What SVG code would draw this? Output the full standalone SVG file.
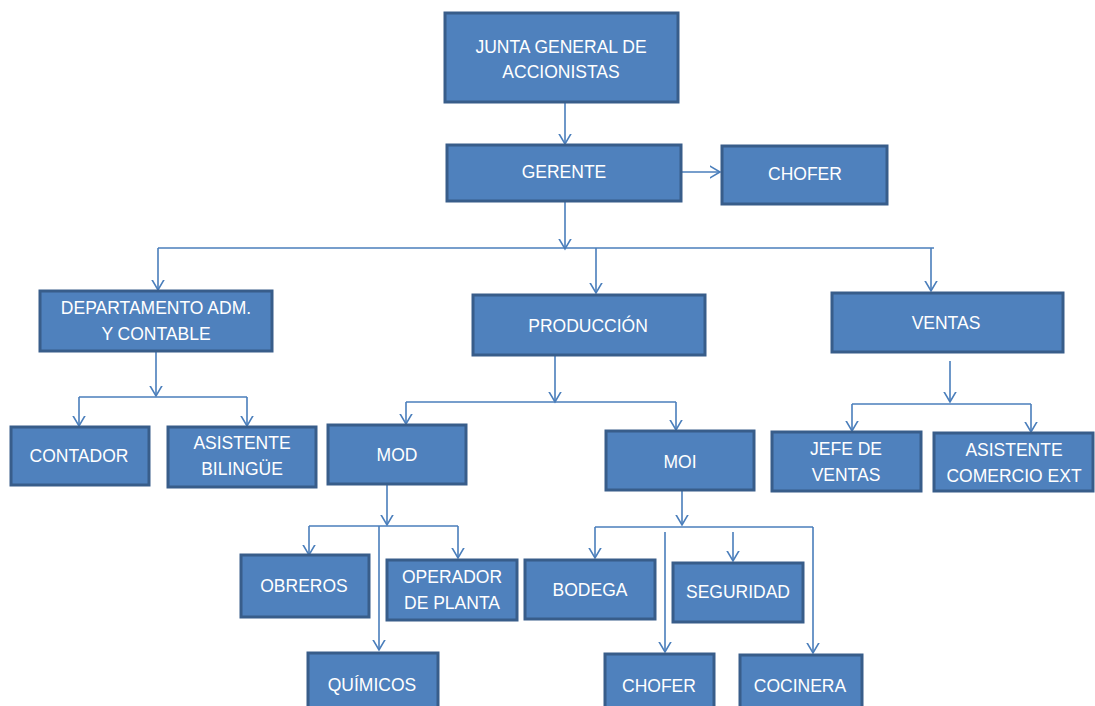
<svg xmlns="http://www.w3.org/2000/svg" width="1095" height="706" viewBox="0 0 1095 706">
<style>
.box{fill:#4F81BD;stroke:#385D8A;stroke-width:3}
.t{fill:#FFFFFF;font-family:"Liberation Sans",Arial,sans-serif;font-size:17.5px;text-anchor:middle}
.c{fill:none;stroke:#4A7EBB;stroke-width:1.6}
</style>
<defs>
<marker id="ah" markerUnits="userSpaceOnUse" markerWidth="20" markerHeight="20" viewBox="-10 -10 20 20" refX="0" refY="0" orient="auto">
<path d="M-12,-7 L0,0 L-12,7" fill="none" stroke="#4A7EBB" stroke-width="1.6"/>
</marker>
</defs>
<rect width="1095" height="706" fill="#FFFFFF"/>
<g id="connectors">
<path class="c" d="M565,102 V144" marker-end="url(#ah)"/>
<path class="c" d="M681,172 H720" marker-end="url(#ah)"/>
<path class="c" d="M565,201 V249" marker-end="url(#ah)"/>
<path class="c" d="M158,248 H934"/>
<path class="c" d="M158,248 V290" marker-end="url(#ah)"/>
<path class="c" d="M596,248 V293" marker-end="url(#ah)"/>
<path class="c" d="M931,248 V291" marker-end="url(#ah)"/>
<path class="c" d="M156,351 V396" marker-end="url(#ah)"/>
<path class="c" d="M79,397 H247"/>
<path class="c" d="M79,397 V426" marker-end="url(#ah)"/>
<path class="c" d="M247,397 V426" marker-end="url(#ah)"/>
<path class="c" d="M555,355 V402" marker-end="url(#ah)"/>
<path class="c" d="M406,402 H676"/>
<path class="c" d="M406,402 V424" marker-end="url(#ah)"/>
<path class="c" d="M676,402 V430" marker-end="url(#ah)"/>
<path class="c" d="M950,361 V402" marker-end="url(#ah)"/>
<path class="c" d="M852,404 H1031"/>
<path class="c" d="M852,404 V431" marker-end="url(#ah)"/>
<path class="c" d="M1031,404 V432" marker-end="url(#ah)"/>
<path class="c" d="M387,484 V525" marker-end="url(#ah)"/>
<path class="c" d="M309,526 H458"/>
<path class="c" d="M309,526 V555" marker-end="url(#ah)"/>
<path class="c" d="M458,526 V558" marker-end="url(#ah)"/>
<path class="c" d="M379,526 V650" marker-end="url(#ah)"/>
<path class="c" d="M682,490 V525" marker-end="url(#ah)"/>
<path class="c" d="M595,527 H813"/>
<path class="c" d="M595,527 V558" marker-end="url(#ah)"/>
<path class="c" d="M665,532 V652" marker-end="url(#ah)"/>
<path class="c" d="M733,532 V561" marker-end="url(#ah)"/>
<path class="c" d="M813,527 V653" marker-end="url(#ah)"/>
</g>
<g id="junta"><rect class="box" x="445" y="13" width="233" height="89"/><text class="t" x="561" y="53">JUNTA GENERAL DE</text><text class="t" x="561" y="78">ACCIONISTAS</text></g>
<g id="gerente"><rect class="box" x="447" y="145" width="234" height="56"/><text class="t" x="564" y="178">GERENTE</text></g>
<g id="chofer1"><rect class="box" x="722" y="146" width="165" height="58"/><text class="t" x="805" y="180">CHOFER</text></g>
<g id="departamento"><rect class="box" x="40" y="291" width="232" height="60"/><text class="t" x="156" y="314">DEPARTAMENTO ADM.</text><text class="t" x="156" y="340">Y CONTABLE</text></g>
<g id="produccion"><rect class="box" x="473" y="295" width="232" height="60"/><text class="t" x="588" y="332">PRODUCCIÓN</text></g>
<g id="ventas"><rect class="box" x="832" y="293" width="231" height="59"/><text class="t" x="946" y="329">VENTAS</text></g>
<g id="contador"><rect class="box" x="11" y="427" width="138" height="58"/><text class="t" x="79" y="462">CONTADOR</text></g>
<g id="asistente-bilingue"><rect class="box" x="168" y="427" width="148" height="60"/><text class="t" x="242" y="449">ASISTENTE</text><text class="t" x="242" y="475">BILINGÜE</text></g>
<g id="mod"><rect class="box" x="328" y="425" width="138" height="59"/><text class="t" x="397" y="461">MOD</text></g>
<g id="moi"><rect class="box" x="606" y="431" width="148" height="59"/><text class="t" x="680" y="468">MOI</text></g>
<g id="jefe-ventas"><rect class="box" x="772" y="432" width="149" height="59"/><text class="t" x="846" y="455">JEFE DE</text><text class="t" x="846" y="481">VENTAS</text></g>
<g id="asistente-comercio"><rect class="box" x="934" y="433" width="159" height="58"/><text class="t" x="1014" y="456">ASISTENTE</text><text class="t" x="1014" y="482">COMERCIO EXT</text></g>
<g id="obreros"><rect class="box" x="241" y="555" width="128" height="62"/><text class="t" x="304" y="592">OBREROS</text></g>
<g id="operador"><rect class="box" x="387" y="560" width="130" height="60"/><text class="t" x="452" y="583">OPERADOR</text><text class="t" x="452" y="609">DE PLANTA</text></g>
<g id="quimicos"><rect class="box" x="308" y="653" width="130" height="66"/><text class="t" x="372" y="691">QUÍMICOS</text></g>
<g id="bodega"><rect class="box" x="525" y="560" width="130" height="59"/><text class="t" x="590" y="596">BODEGA</text></g>
<g id="seguridad"><rect class="box" x="673" y="563" width="130" height="59"/><text class="t" x="738" y="598">SEGURIDAD</text></g>
<g id="chofer2"><rect class="box" x="605" y="654" width="109" height="66"/><text class="t" x="659" y="692">CHOFER</text></g>
<g id="cocinera"><rect class="box" x="740" y="655" width="122" height="66"/><text class="t" x="800" y="692">COCINERA</text></g>
</svg>
